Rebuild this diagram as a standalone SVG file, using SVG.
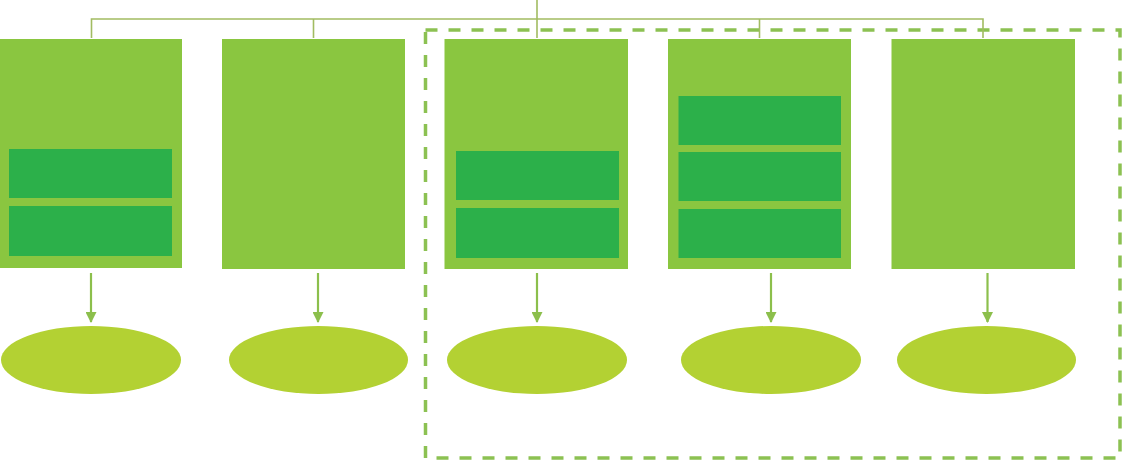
<svg xmlns="http://www.w3.org/2000/svg" width="1122" height="460" viewBox="0 0 1122 460">
<style>
.box{fill:#8AC640}
.inner{fill:#2CB04A}
.ell{fill:#B3D133}
.conn{fill:none;stroke:#A2BC62;stroke-width:1.6}
.arrow{fill:none;stroke:#8CBF4C;stroke-width:2.2;marker-end:url(#ah)}
.frame{fill:none;stroke:#8CC152;stroke-width:3.5;stroke-dasharray:12 11}
</style>
<defs>
<marker id="ah" markerWidth="11" markerHeight="11" refX="10" refY="5.5" orient="auto" markerUnits="userSpaceOnUse" viewBox="0 0 11 11">
<path d="M0,0 L11,5.5 L0,11 Z" fill="#8CBF4C"/>
</marker>
</defs>
<rect width="1122" height="460" fill="#FFFFFF"/>
<g id="group-frame">
<rect class="frame" x="425.5" y="30" width="694.5" height="428"/>
</g>
<g id="connectors">
<path class="conn" d="M537,0 V38 M91.5,38 V19 H983 V38 M313.5,19 V38 M759.5,19 V38"/>
<line class="arrow" x1="91" y1="273" x2="91" y2="322"/>
<line class="arrow" x1="318" y1="273" x2="318" y2="322"/>
<line class="arrow" x1="537" y1="273" x2="537" y2="322"/>
<line class="arrow" x1="771" y1="273" x2="771" y2="322"/>
<line class="arrow" x1="987.5" y1="273" x2="987.5" y2="322"/>
</g>
<g id="node-box1">
<rect class="box" x="0" y="39" width="182" height="229"/>
<rect class="inner" x="9" y="149" width="163" height="49"/>
<rect class="inner" x="9" y="206" width="163" height="50"/>
</g>
<g id="node-box2">
<rect class="box" x="222" y="39" width="183" height="230"/>
</g>
<g id="node-box3">
<rect class="box" x="444.5" y="39" width="183.5" height="230"/>
<rect class="inner" x="456" y="151" width="163" height="49"/>
<rect class="inner" x="456" y="208" width="163" height="50"/>
</g>
<g id="node-box4">
<rect class="box" x="668" y="39" width="183" height="230"/>
<rect class="inner" x="678.5" y="96" width="162.5" height="49"/>
<rect class="inner" x="678.5" y="152" width="162.5" height="49"/>
<rect class="inner" x="678.5" y="209" width="162.5" height="49"/>
</g>
<g id="node-box5">
<rect class="box" x="891.5" y="39" width="183.5" height="230"/>
</g>
<g id="node-ell1"><ellipse class="ell" cx="91" cy="360" rx="90" ry="34"/></g>
<g id="node-ell2"><ellipse class="ell" cx="318.5" cy="360" rx="89.5" ry="34"/></g>
<g id="node-ell3"><ellipse class="ell" cx="537" cy="360" rx="90" ry="34"/></g>
<g id="node-ell4"><ellipse class="ell" cx="771" cy="360" rx="90" ry="34"/></g>
<g id="node-ell5"><ellipse class="ell" cx="986.5" cy="360" rx="89.5" ry="34"/></g>
</svg>
